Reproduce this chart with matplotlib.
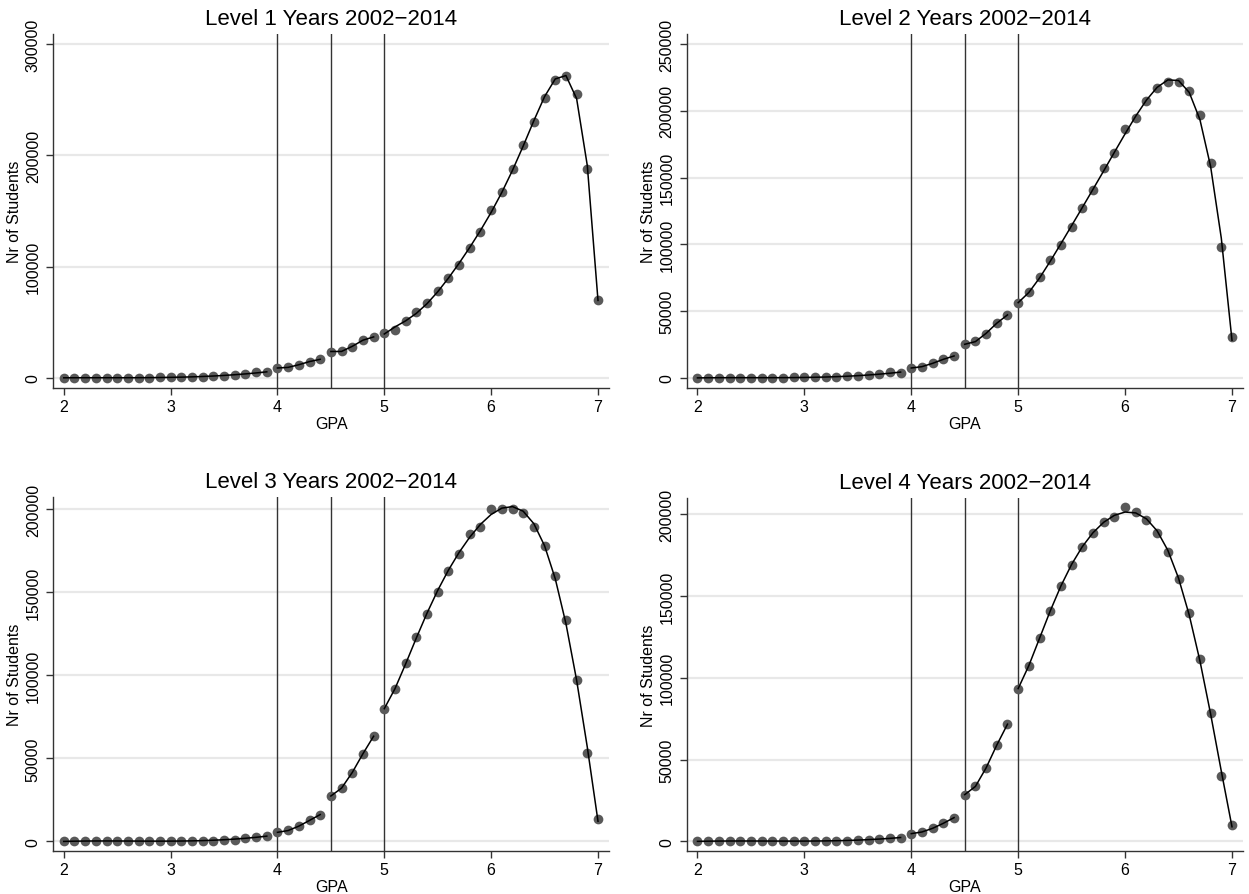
import numpy as np
import matplotlib
matplotlib.use("Agg")
import matplotlib.pyplot as plt

plt.rcParams["font.family"] = ["Liberation Sans", "DejaVu Sans"]

gpa = [2.0, 2.1, 2.2, 2.3, 2.4, 2.5, 2.6, 2.7, 2.8, 2.9,
       3.0, 3.1, 3.2, 3.3, 3.4, 3.5, 3.6, 3.7, 3.8, 3.9,
       4.0, 4.1, 4.2, 4.3, 4.4, 4.5, 4.6, 4.7, 4.8, 4.9,
       5.0, 5.1, 5.2, 5.3, 5.4, 5.5, 5.6, 5.7, 5.8, 5.9,
       6.0, 6.1, 6.2, 6.3, 6.4, 6.5, 6.6, 6.7, 6.8, 6.9, 7.0]

level1 = [300, 150, 150, 200, 200, 250, 300, 350, 400, 500,
          800, 700, 900, 1200, 1600, 2100, 2900, 4000, 5200, 5000,
          9000, 9500, 12000, 14700, 16800, 23700, 24300, 27800, 34400, 36800,
          40700, 43400, 51200, 59600, 67700, 78100, 89500, 101200, 117000, 130800,
          150600, 167400, 187400, 209600, 230200, 251500, 267400, 271000, 255400, 188000, 70100]
level2 = [200, 150, 150, 200, 200, 250, 250, 300, 300, 400,
          500, 500, 800, 1000, 1200, 1700, 2000, 2700, 4500, 4000,
          7500, 8500, 11000, 14000, 16500, 25200, 27400, 33200, 41200, 47200,
          56100, 64100, 75600, 88100, 99800, 113000, 127200, 140700, 156900, 168200,
          186100, 194900, 207100, 217100, 221600, 221600, 214800, 196600, 160700, 98300, 30700]
level3 = [100, 100, 100, 100, 100, 150, 150, 200, 200, 250,
          300, 300, 350, 400, 500, 800, 1000, 2000, 2800, 3000,
          5400, 6600, 9000, 12700, 16100, 27300, 32100, 41400, 52800, 63300,
          79700, 92000, 107400, 123100, 137000, 150400, 162900, 173300, 184900, 189600,
          200400, 200400, 200400, 197600, 189600, 178100, 160000, 133100, 97400, 53000, 13700]
level4 = [100, 100, 100, 100, 100, 150, 150, 200, 200, 250,
          300, 300, 300, 350, 400, 600, 800, 1400, 2200, 2200,
          4700, 5700, 8000, 11000, 14500, 28500, 33800, 44600, 59100, 71600,
          93400, 107400, 124600, 140900, 156400, 169200, 180000, 188400, 195300, 198200,
          204300, 201200, 196700, 188600, 177000, 160400, 139900, 111700, 78500, 40200, 10000]

titles = ["Level 1 Years 2002\u22122014", "Level 2 Years 2002\u22122014",
          "Level 3 Years 2002\u22122014", "Level 4 Years 2002\u22122014"]
cutoffs = [4.0, 4.5, 5.0]
# segments between cutoffs, each gets its own polynomial fit (degree)
segments = [(2.0, 3.9, 3), (4.0, 4.4, 3), (4.5, 4.9, 3), (5.0, 7.0, 6)]
yticks = [[0, 100000, 200000, 300000],
          [0, 50000, 100000, 150000, 200000, 250000],
          [0, 50000, 100000, 150000, 200000],
          [0, 50000, 100000, 150000, 200000]]
ylims = [(-9250, 309000), (-7700, 257500), (-6000, 207400), (-6100, 210000)]

W, H = 1249, 895
boxes = [(53.3, 35, 609, 389.3), (687, 35, 1243, 389.3),
         (53.3, 498, 609, 852.3), (687, 499, 1243, 852.3)]

fig = plt.figure(figsize=(W / 100, H / 100), dpi=100)
x = np.array(gpa)
for i, ys in enumerate([level1, level2, level3, level4]):
    l, t, r, b = boxes[i]
    ax = fig.add_axes([l / W, 1 - b / H, (r - l) / W, (b - t) / H])
    y = np.array(ys, dtype=float)
    ax.set_axisbelow(True)
    ax.grid(axis="y", color="#e8e8e8", lw=1.6)
    for c in cutoffs:
        ax.axvline(c, color="#333333", lw=1.0, zorder=2)
    ax.plot(x, y, "o", ms=7, color="#595959", mec="none", zorder=3)
    # fitted values at each GPA, connected by straight lines
    for lo, hi, deg in segments:
        m = (x >= lo - 1e-9) & (x <= hi + 1e-9)
        p = np.polynomial.Polynomial.fit(x[m], y[m], deg)
        ax.plot(x[m], p(x[m]), color="black", lw=1.1, zorder=4)
    ax.set_xlim(1.902, 7.103)
    ax.set_ylim(*ylims[i])
    ax.set_xticks([2, 3, 4, 5, 6, 7])
    ax.set_yticks(yticks[i])
    ax.set_yticklabels([str(v) for v in yticks[i]], rotation=90, va="center")
    for s in ["top", "right"]:
        ax.spines[s].set_visible(False)
    for s in ["left", "bottom"]:
        ax.spines[s].set_color("#333333")
        ax.spines[s].set_linewidth(1.0)
    ax.tick_params(axis="both", colors="#333333", labelcolor="black", labelsize=11.5,
                   length=5, width=1.0)
    ax.tick_params(axis="y", pad=4)
    ax.tick_params(axis="x", pad=3)
    ax.set_xlabel("GPA", fontsize=11.5, labelpad=1)
    ax.set_ylabel("Nr of Students", fontsize=11.5, labelpad=2.5)
    ax.set_title(titles[i], fontsize=16, pad=7)

fig.savefig("out.png", dpi=100, facecolor="white")
